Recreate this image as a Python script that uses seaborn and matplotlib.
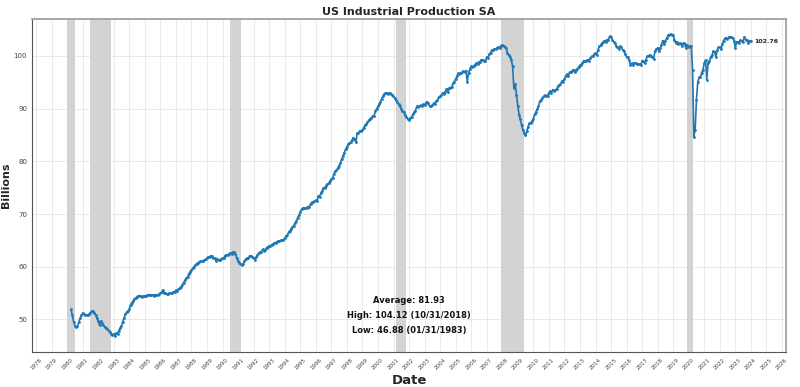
import matplotlib
matplotlib.use("Agg")
import matplotlib.pyplot as plt
import matplotlib.dates as mdates
import seaborn as sns
import pandas as pd

# monthly values, Mar 1980 .. Dec 2023 (end of month)
START_DATE = "1980-03-31"
ip_1980 = [51.9, 50.9, 49.6, 48.8, 48.5, 48.7, 49.5, 50.2, 50.8, 51.2]
ip_1981 = [51.0, 50.8, 50.9, 50.8, 51.0, 51.3, 51.6, 51.6, 51.3, 50.9, 50.3, 49.7]
ip_1982 = [48.9, 49.7, 49.3, 48.9, 48.6, 48.4, 48.2, 47.9, 47.7, 47.3, 47.1, 47.2]
ip_1983 = [46.88, 47.4, 47.3, 47.9, 48.4, 48.8, 49.6, 50.3, 51.0, 51.4, 51.6, 51.9]
ip_1984 = [52.8, 53.2, 53.5, 53.9, 54.1, 54.3, 54.5, 54.5, 54.4, 54.3, 54.5, 54.5]
ip_1985 = [54.4, 54.6, 54.7, 54.7, 54.7, 54.6, 54.5, 54.7, 54.7, 54.6, 54.8, 55.0]
ip_1986 = [55.2, 55.6, 55.1, 55.0, 54.9, 54.8, 55.0, 55.0, 55.0, 55.2, 55.3, 55.5]
ip_1987 = [55.4, 55.7, 55.9, 56.2, 56.6, 57.0, 57.4, 57.8, 58.0, 58.7, 59.0, 59.4]
ip_1988 = [59.7, 60.0, 60.3, 60.6, 60.7, 60.9, 61.0, 61.1, 61.0, 61.3, 61.4, 61.6]
ip_1989 = [61.9, 61.8, 62.1, 62.0, 61.7, 61.6, 61.1, 61.5, 61.3, 61.2, 61.5, 61.7]
ip_1990 = [61.6, 62.1, 62.3, 62.2, 62.4, 62.6, 62.5, 62.8, 62.8, 62.5, 61.6, 61.1]
ip_1991 = [60.8, 60.5, 60.3, 60.5, 61.0, 61.5, 61.6, 61.7, 62.1, 62.0, 61.9, 61.7]
ip_1992 = [61.3, 61.8, 62.2, 62.6, 62.8, 62.8, 63.3, 63.0, 63.2, 63.6, 63.8, 63.9]
ip_1993 = [64.0, 64.2, 64.3, 64.5, 64.6, 64.7, 64.9, 64.9, 65.0, 65.0, 65.1, 65.4]
ip_1994 = [65.8, 66.0, 66.5, 66.8, 67.2, 67.5, 67.8, 68.3, 68.6, 69.3, 69.8, 70.4]
ip_1995 = [70.9, 71.1, 71.2, 71.1, 71.2, 71.4, 71.4, 71.9, 72.2, 72.3, 72.4, 72.6]
ip_1996 = [72.4, 73.4, 73.3, 74.0, 74.4, 74.9, 75.0, 75.4, 75.7, 75.8, 76.3, 76.6]
ip_1997 = [76.8, 77.6, 78.1, 78.3, 78.7, 79.2, 79.6, 80.4, 81.0, 81.6, 82.3, 82.7]
ip_1998 = [83.2, 83.4, 83.6, 84.0, 84.5, 84.2, 83.6, 85.3, 85.3, 85.8, 85.7, 86.0]
ip_1999 = [86.3, 86.8, 87.1, 87.4, 87.8, 88.0, 88.3, 88.6, 88.5, 89.5, 89.9, 90.4]
ip_2000 = [90.9, 91.3, 91.9, 92.4, 92.8, 93.0, 92.9, 92.8, 93.0, 92.7, 92.6, 92.3]
ip_2001 = [92.0, 91.6, 91.2, 90.8, 90.4, 90.0, 89.6, 89.3, 88.8, 88.4, 88.0, 87.8]
ip_2002 = [88.2, 88.4, 88.9, 89.3, 89.6, 90.4, 90.3, 90.5, 90.6, 90.4, 90.8, 90.6]
ip_2003 = [91.1, 91.3, 91.0, 90.4, 90.5, 90.6, 91.0, 90.9, 91.4, 91.6, 92.2, 92.3]
ip_2004 = [92.5, 93.0, 92.7, 93.2, 93.8, 93.1, 93.9, 94.0, 94.1, 94.8, 95.1, 95.6]
ip_2005 = [96.1, 96.7, 96.6, 96.8, 96.9, 97.1, 96.9, 97.2, 95.1, 96.7, 97.5, 98.0]
ip_2006 = [97.9, 98.1, 98.3, 98.6, 98.5, 98.9, 98.9, 99.3, 99.2, 99.1, 99.0, 99.8]
ip_2007 = [99.6, 100.3, 100.6, 101.1, 101.2, 101.3, 101.3, 101.5, 101.7, 101.5, 101.9, 102.1]
ip_2008 = [101.9, 101.7, 101.5, 100.6, 100.1, 99.8, 99.3, 98.0, 93.9, 94.6, 92.5, 90.5]
ip_2009 = [88.8, 88.0, 86.8, 86.0, 85.4, 84.9, 85.7, 86.6, 87.2, 87.3, 87.6, 88.1]
ip_2010 = [88.9, 89.3, 89.9, 90.4, 91.4, 91.6, 92.1, 92.3, 92.5, 92.3, 92.4, 93.0]
ip_2011 = [93.3, 93.0, 93.6, 93.3, 93.5, 93.7, 94.2, 94.5, 94.6, 95.2, 95.1, 95.6]
ip_2012 = [96.2, 96.5, 96.1, 96.9, 97.0, 97.1, 97.4, 97.0, 97.4, 97.5, 97.9, 98.2]
ip_2013 = [98.3, 98.7, 99.1, 99.0, 99.1, 99.3, 99.0, 99.6, 99.9, 99.9, 100.3, 100.5]
ip_2014 = [100.2, 101.1, 101.8, 102.0, 102.4, 102.6, 102.9, 102.7, 103.1, 103.1, 103.7, 103.5]
ip_2015 = [103.1, 102.7, 102.4, 101.9, 101.6, 101.3, 101.8, 101.6, 101.2, 100.9, 100.3, 99.8]
ip_2016 = [99.8, 99.2, 98.3, 98.6, 98.2, 98.6, 98.7, 98.4, 98.5, 98.4, 98.2, 99.1]
ip_2017 = [99.0, 98.6, 99.3, 99.9, 100.0, 100.2, 100.0, 99.7, 99.5, 101.0, 101.3, 101.5]
ip_2018 = [100.9, 101.4, 102.1, 102.9, 102.2, 102.9, 103.3, 103.9, 104.0, 104.12, 103.9, 103.9]
ip_2019 = [103.0, 102.5, 102.7, 102.2, 102.4, 102.3, 101.9, 102.5, 102.2, 101.4, 102.0, 101.6]
ip_2020 = [101.8, 101.9, 97.4, 84.7, 86.0, 91.6, 95.1, 95.9, 95.9, 96.8, 97.4, 98.6]
ip_2021 = [99.2, 95.5, 98.7, 99.0, 99.8, 100.1, 100.9, 100.8, 99.8, 101.1, 101.6, 101.6]
ip_2022 = [101.3, 102.2, 102.9, 103.3, 103.3, 103.2, 103.6, 103.5, 103.6, 103.4, 102.9, 101.5]
ip_2023 = [102.7, 102.6, 102.5, 103.0, 102.8, 102.7, 103.6, 103.1, 103.0, 102.5, 102.9, 102.76]

# recession periods (shaded)
rec_start = ["1980-01-01", "1981-07-01", "1990-07-01", "2001-03-01", "2007-12-01", "2019-12-01"]
rec_end = ["1980-07-01", "1982-11-01", "1991-03-01", "2001-11-01", "2009-06-01", "2020-03-31"]

stats_lines = ["Average: 81.93", "High: 104.12 (10/31/2018)", "Low: 46.88 (01/31/1983)"]
last_label = "102.76"

values = (ip_1980 + ip_1981 + ip_1982 + ip_1983 + ip_1984 + ip_1985 + ip_1986 + ip_1987
          + ip_1988 + ip_1989 + ip_1990 + ip_1991 + ip_1992 + ip_1993 + ip_1994 + ip_1995
          + ip_1996 + ip_1997 + ip_1998 + ip_1999 + ip_2000 + ip_2001 + ip_2002 + ip_2003
          + ip_2004 + ip_2005 + ip_2006 + ip_2007 + ip_2008 + ip_2009 + ip_2010 + ip_2011
          + ip_2012 + ip_2013 + ip_2014 + ip_2015 + ip_2016 + ip_2017 + ip_2018 + ip_2019
          + ip_2020 + ip_2021 + ip_2022 + ip_2023)
df = pd.DataFrame({
    "Date": pd.date_range(START_DATE, periods=len(values), freq="ME"),
    "Value": values,
})

sns.set_style("white")
fig, ax = plt.subplots(figsize=(8, 3.87), dpi=100)
fig.subplots_adjust(left=0.04, right=0.9825, bottom=0.09, top=0.951)

for s, e in zip(rec_start, rec_end):
    ax.axvspan(pd.Timestamp(s), pd.Timestamp(e), color="#d3d3d3", zorder=1, lw=0)

sns.lineplot(data=df, x="Date", y="Value", ax=ax, color="#1f77b4", linewidth=1.2,
             marker="o", markersize=2, markeredgewidth=0, zorder=3)

last = df.iloc[-1]
ax.annotate(last_label, xy=(last["Date"], last["Value"]), xytext=(2.5, 0),
            textcoords="offset points", fontsize=4.5, fontweight="bold", va="center", ha="left")

for i, line in enumerate(stats_lines):
    ax.text(0.5, 0.156 - i * 0.045, line, transform=ax.transAxes, ha="center", va="center",
            fontsize=6, fontweight="bold", color="#111111")

ax.set_xlim(pd.Timestamp("1977-09-27"), pd.Timestamp("2026-04-05"))
ax.set_ylim(43.8, 107.0)
ax.xaxis.set_major_locator(mdates.YearLocator(1))
ax.xaxis.set_major_formatter(mdates.DateFormatter("%Y"))
ax.set_yticks([50, 60, 70, 80, 90, 100])
ax.tick_params(axis="x", labelsize=4, rotation=45, length=2, pad=1.5, colors="#444444")
ax.tick_params(axis="y", labelsize=5, length=2, pad=1.5, colors="#444444")
for lab in ax.get_xticklabels():
    lab.set_ha("center")

ax.grid(True, color="#e6e6e6", linewidth=0.6, zorder=0)
ax.set_axisbelow(True)
for side in ["left", "bottom"]:
    ax.spines[side].set_color("#555555")
for side in ["top", "right"]:
    ax.spines[side].set_color("#9a9a9a")
    ax.spines[side].set_linewidth(1.2)

ax.set_title("US Industrial Production SA", fontsize=8, fontweight="bold", pad=3)
ax.set_xlabel("Date", fontsize=9.5, fontweight="bold")
ax.set_ylabel("Billions", fontsize=8, fontweight="bold")
ax.xaxis.set_label_coords(0.5, -0.066)
ax.yaxis.set_label_coords(-0.0279, 0.5)

plt.savefig("out.png", dpi=100)
